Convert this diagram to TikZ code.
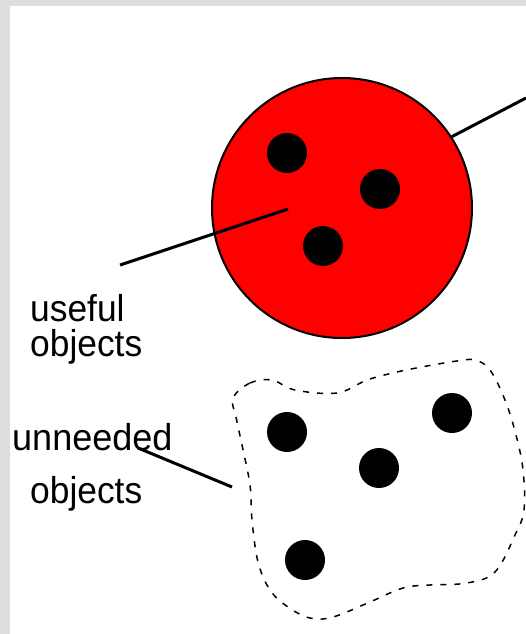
\documentclass[tikz,border=0pt]{standalone}
\usepackage{fontspec}
\setmainfont{Liberation Sans}
\usepackage{graphicx}
\definecolor{framegrey}{RGB}{222,222,222}

\begin{document}
\begin{tikzpicture}[
    x=1pt, y=-1pt,
    ball/.style={circle, draw, line width=2pt, fill=red, inner sep=0pt, minimum size=260pt},
    obj/.style={circle, fill=black, inner sep=0pt, minimum size=40pt},
    label/.style={anchor=base west, inner sep=0pt, font=\fontsize{34}{34}\selectfont},
    line/.style={draw, line width=3pt},
    blob/.style={draw, line width=1.5pt, dash pattern=on 6pt off 8pt}
]
\useasboundingbox (0,0) rectangle (526,634);
\fill[framegrey] (0,0) rectangle (526,634);
\fill[white] (10,6) rectangle (526,634);

\node[ball] (redball) at (342,208) {};
\node[obj] (useA) at (287,153) {};
\node[obj] (useB) at (380,189) {};
\node[obj] (useC) at (323,246) {};

\node[obj] (junkA) at (287,432) {};
\node[obj] (junkB) at (379,468) {};
\node[obj] (junkC) at (452,413) {};
\node[obj] (junkD) at (305,560) {};

\draw[blob] plot[smooth cycle, tension=0.6] coordinates {
    (233,398) (250,383) (272,380) (295,390) (337,393) (367,380)
    (397,372) (427,366) (457,361) (475,360) (490,370) (505,400)
    (516,435) (523,470) (524,510) (515,535) (495,572) (467,583)
    (430,585) (403,588) (370,602) (333,617) (310,618) (288,607)
    (270,590) (258,562) (252,520) (250,485) (242,445) (236,417)};

\node[label] (useful) at (30,321) {\scalebox{1.04}[1.1]{useful}};
\node[label] (usefulobj) at (30,356) {\scalebox{1.04}[1.1]{objects}};
\node[label] (unneeded) at (12,450) {\scalebox{1.06}[1.1]{unneeded}};
\node[label] (unneededobj) at (30,503) {\scalebox{1.04}[1.1]{objects}};

\coordinate (usefultip) at (288,209);
\coordinate (usefulend) at (120,265);
\coordinate (offpage) at (526,98);
\coordinate (unneededtip) at (138,448);
\coordinate (unneededend) at (232,487);

\draw[line] (usefultip) -- (usefulend);
\draw[line] (redball.33) -- (offpage);
\draw[line] (unneededtip) -- (unneededend);
\end{tikzpicture}
\end{document}
